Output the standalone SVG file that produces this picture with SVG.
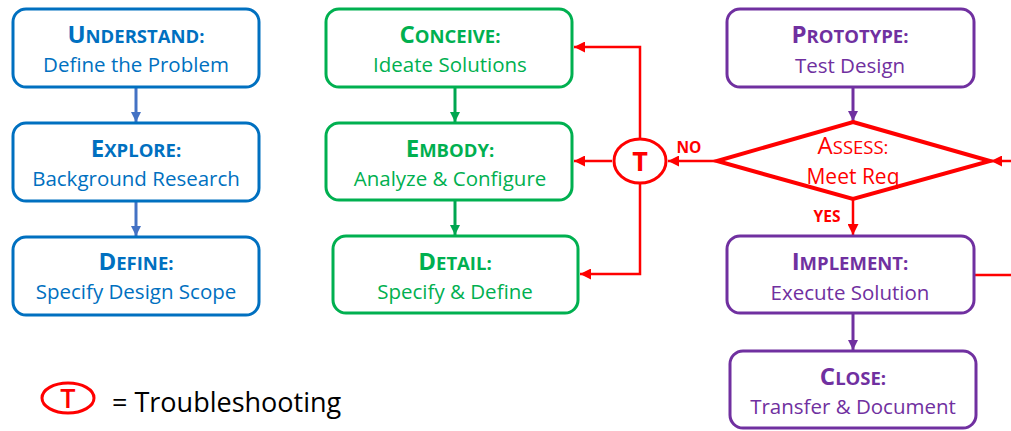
<svg xmlns="http://www.w3.org/2000/svg" width="1011" height="431" viewBox="0 0 1011 431">
  <style>
    text { font-family: "Open Sans", "Liberation Sans", sans-serif; text-anchor: middle; }
    .box { fill: #fff; stroke-width: 3; }
    .blue { stroke: #0070C0; }
    .green { stroke: #00B050; }
    .purple { stroke: #7030A0; }
    .t-blue { fill: #0070C0; }
    .t-green { fill: #00B050; }
    .t-purple { fill: #7030A0; }
    .t-red { fill: #FF0000; }
    .title { font-weight: 700; font-size: 24px; }
    .sc { font-size: 18.5px; }
    .sub { font-size: 20.5px; }
    .red-line { stroke: #FF0000; stroke-width: 2.5; fill: none; }
  </style>
  <defs>
    <marker id="ah-blue" viewBox="0 0 10 10" refX="10" refY="5" markerWidth="10" markerHeight="10" markerUnits="userSpaceOnUse" orient="auto">
      <path d="M0,0 L10,5 L0,10 z" fill="#4472C4"/>
    </marker>
    <marker id="ah-green" viewBox="0 0 10 10" refX="10" refY="5" markerWidth="10" markerHeight="10" markerUnits="userSpaceOnUse" orient="auto">
      <path d="M0,0 L10,5 L0,10 z" fill="#00A650"/>
    </marker>
    <marker id="ah-purple" viewBox="0 0 10 10" refX="10" refY="5" markerWidth="10" markerHeight="10" markerUnits="userSpaceOnUse" orient="auto">
      <path d="M0,0 L10,5 L0,10 z" fill="#7030A0"/>
    </marker>
    <marker id="ah-red" viewBox="0 0 10 10" refX="10" refY="5" markerWidth="11" markerHeight="11" markerUnits="userSpaceOnUse" orient="auto">
      <path d="M0,0 L10,5 L0,10 z" fill="#FF0000"/>
    </marker>
  </defs>

  <!-- connectors -->
  <g id="connectors">
    <line x1="136" y1="88" x2="136" y2="122" stroke="#4472C4" stroke-width="3" marker-end="url(#ah-blue)"/>
    <line x1="136" y1="201" x2="136" y2="236" stroke="#4472C4" stroke-width="3" marker-end="url(#ah-blue)"/>
    <line x1="455" y1="87" x2="455" y2="122" stroke="#00A650" stroke-width="3" marker-end="url(#ah-green)"/>
    <line x1="455" y1="200" x2="455" y2="235" stroke="#00A650" stroke-width="3" marker-end="url(#ah-green)"/>
    <line x1="853" y1="88" x2="853" y2="121" stroke="#7030A0" stroke-width="3" marker-end="url(#ah-purple)"/>
    <line x1="853" y1="314" x2="853" y2="350" stroke="#7030A0" stroke-width="3" marker-end="url(#ah-purple)"/>
    <!-- decision outputs -->
    <line x1="853" y1="200" x2="853" y2="235" class="red-line" stroke-width="3" marker-end="url(#ah-red)"/>
    <line x1="716" y1="161" x2="668" y2="161" class="red-line" marker-end="url(#ah-red)"/>
    <line x1="1011" y1="161" x2="991" y2="161" class="red-line" marker-end="url(#ah-red)"/>
    <line x1="975" y1="275" x2="1011" y2="275" class="red-line"/>
    <!-- troubleshooting returns -->
    <line x1="612" y1="161" x2="574" y2="161" class="red-line" marker-end="url(#ah-red)"/>
    <polyline points="640,138 640,47 574,47" class="red-line" marker-end="url(#ah-red)"/>
    <polyline points="640,184 640,274 580,274" class="red-line" marker-end="url(#ah-red)"/>
    <text x="689" y="153" class="t-red" font-size="15.5" font-weight="700">NO</text>
    <text x="827" y="222" class="t-red" font-size="15.5" font-weight="700">YES</text>
  </g>

  <!-- understand column -->
  <g id="understand">
    <rect x="13" y="9" width="246" height="78" rx="13" class="box blue"/>
    <text x="136" y="43" class="title t-blue">U<tspan class="sc">NDERSTAND:</tspan></text>
    <text x="136" y="72" class="sub t-blue">Define the Problem</text>
  </g>
  <g id="explore">
    <rect x="13" y="123" width="246" height="78" rx="13" class="box blue"/>
    <text x="136" y="157" class="title t-blue">E<tspan class="sc">XPLORE:</tspan></text>
    <text x="136" y="186" class="sub t-blue">Background Research</text>
  </g>
  <g id="define">
    <rect x="13" y="237" width="246" height="78" rx="13" class="box blue"/>
    <text x="136" y="270" class="title t-blue">D<tspan class="sc">EFINE:</tspan></text>
    <text x="136" y="299" class="sub t-blue">Specify Design Scope</text>
  </g>

  <!-- conceive column -->
  <g id="conceive">
    <rect x="326" y="9" width="246" height="78" rx="13" class="box green"/>
    <text x="450" y="43" class="title t-green">C<tspan class="sc">ONCEIVE:</tspan></text>
    <text x="450" y="72" class="sub t-green">Ideate Solutions</text>
  </g>
  <g id="embody">
    <rect x="326" y="123" width="246" height="77" rx="13" class="box green"/>
    <text x="450" y="157" class="title t-green">E<tspan class="sc">MBODY:</tspan></text>
    <text x="450" y="186" class="sub t-green">Analyze &amp; Configure</text>
  </g>
  <g id="detail">
    <rect x="333" y="236" width="245" height="77" rx="13" class="box green"/>
    <text x="455" y="270" class="title t-green">D<tspan class="sc">ETAIL:</tspan></text>
    <text x="455" y="299" class="sub t-green">Specify &amp; Define</text>
  </g>

  <!-- troubleshooting node -->
  <g id="troubleshoot">
    <ellipse cx="640" cy="161" rx="26" ry="22" fill="#fff" stroke="#FF0000" stroke-width="3"/>
    <text x="640" y="171" class="t-red" font-size="27" font-weight="700">T</text>
  </g>

  <!-- prototype column -->
  <g id="prototype">
    <rect x="727" y="9" width="247" height="78" rx="13" class="box purple"/>
    <text x="850" y="43" class="title t-purple">P<tspan class="sc">ROTOTYPE:</tspan></text>
    <text x="850" y="73" class="sub t-purple">Test Design</text>
  </g>
  <g id="assess">
    <polygon points="853,122 990,161 853,199 717,161" fill="#fff" stroke="#FF0000" stroke-width="4" stroke-linejoin="miter"/>
    <text x="853" y="154" class="t-red" font-size="24">A<tspan font-size="18.5">SSESS:</tspan></text>
    <text x="853" y="184" class="t-red" font-size="21">Meet Req</text>
  </g>
  <g id="implement">
    <rect x="727" y="236" width="247" height="77" rx="13" class="box purple"/>
    <text x="850" y="270" class="title t-purple">I<tspan class="sc">MPLEMENT:</tspan></text>
    <text x="850" y="300" class="sub t-purple">Execute Solution</text>
  </g>
  <g id="close">
    <rect x="730" y="351" width="246" height="77" rx="13" class="box purple"/>
    <text x="853" y="385" class="title t-purple">C<tspan class="sc">LOSE:</tspan></text>
    <text x="853" y="414" class="sub t-purple">Transfer &amp; Document</text>
  </g>

  <!-- legend -->
  <g id="legend">
    <ellipse cx="68" cy="398" rx="26" ry="15" fill="#fff" stroke="#FF0000" stroke-width="3"/>
    <text x="68" y="408" class="t-red" font-size="27" font-weight="600">T</text>
    <text x="112" y="412" font-size="27" fill="#000" style="text-anchor:start">= Troubleshooting</text>
  </g>
</svg>
